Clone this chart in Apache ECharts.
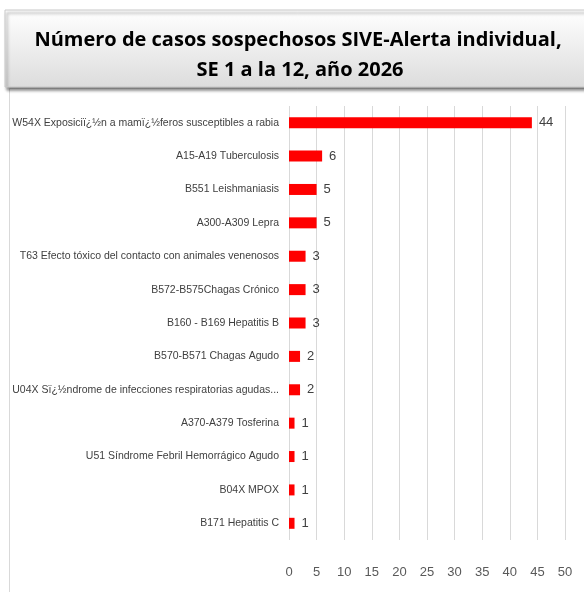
<!DOCTYPE html>
<html>
<head>
<meta charset="utf-8">
<script src="https://cdn.jsdelivr.net/npm/echarts@6/dist/echarts.min.js"></script>
<style>
  html, body { margin: 0; padding: 0; background: #fff; }
  #chartmain { width: 584px; height: 592px; }
</style>
</head>
<body>
<div id="chartmain"></div>
<script>
// datos: casos sospechosos por evento
var categorias = [
  'W54X Exposiciï¿½n a mamï¿½feros susceptibles a rabia',
  'A15-A19 Tuberculosis',
  'B551 Leishmaniasis',
  'A300-A309 Lepra',
  'T63 Efecto tóxico del contacto con animales venenosos',
  'B572-B575Chagas Crónico',
  'B160 - B169 Hepatitis B',
  'B570-B571 Chagas Agudo',
  'U04X Sï¿½ndrome de infecciones respiratorias agudas...',
  'A370-A379 Tosferina',
  'U51 Síndrome Febril Hemorrágico Agudo',
  'B04X MPOX',
  'B171 Hepatitis C'
];
var casos = [44, 6, 5, 5, 3, 3, 3, 2, 2, 1, 1, 1, 1];
var ejeMin = 0, ejeMax = 50, ejePaso = 5;

var tituloLinea1 = 'Número de casos sospechosos SIVE-Alerta individual,';
var tituloLinea2 = 'SE 1 a la 12, año 2026';

var fuente = '"Liberation Sans Narrow", "Liberation Sans", Arial, sans-serif';

var myChart = echarts.init(document.getElementById('chartmain'));
myChart.setOption({
  animation: false,
  graphic: [
    // marco del panel
    {
      type: 'rect', z: 0,
      shape: { x: 9.5, y: 88.5, width: 600, height: 520 },
      style: { fill: '#fff', stroke: '#d9d9d9', lineWidth: 1 }
    },
    // caja del titulo
    {
      type: 'rect', z: 1,
      shape: { x: 5, y: 10, width: 600, height: 77 },
      style: {
        fill: new echarts.graphic.LinearGradient(0, 0, 0, 1, [
          { offset: 0, color: '#ffffff' },
          { offset: 1, color: '#dcdcdc' }
        ]),
        stroke: '#c8c8c8', lineWidth: 1,
        shadowColor: 'rgba(0,0,0,0.45)', shadowBlur: 3, shadowOffsetX: 2, shadowOffsetY: 3
      }
    },
    {
      type: 'text', z: 2,
      style: {
        x: 298, y: 40, text: tituloLinea1,
        fill: '#000', font: 'bold 20px "Open Sans", sans-serif',
        align: 'center', verticalAlign: 'middle'
      }
    },
    {
      type: 'text', z: 2,
      style: {
        x: 300, y: 70, text: tituloLinea2,
        fill: '#000', font: 'bold 20px "Open Sans", sans-serif',
        align: 'center', verticalAlign: 'middle'
      }
    }
  ],
  grid: { left: 289, right: 19, top: 106, height: 434, containLabel: false, outerBoundsMode: 'none' },
  xAxis: {
    type: 'value', min: ejeMin, max: ejeMax, interval: ejePaso,
    axisLine: { show: false }, axisTick: { show: false },
    splitLine: { lineStyle: { color: '#d9d9d9', width: 1 } },
    axisLabel: { color: '#595959', fontSize: 13, fontFamily: fuente, margin: 26 }
  },
  yAxis: {
    type: 'category', data: categorias, inverse: true,
    axisLine: { show: false }, axisTick: { show: false },
    axisLabel: { color: '#404040', fontSize: 10.5, fontFamily: fuente, margin: 10 }
  },
  series: [{
    type: 'bar', data: casos, barWidth: 11,
    itemStyle: { color: '#ff0000' },
    label: {
      show: true, position: 'right', distance: 7,
      color: '#404040', fontSize: 13, fontFamily: fuente
    }
  }]
});
</script>
</body>
</html>
